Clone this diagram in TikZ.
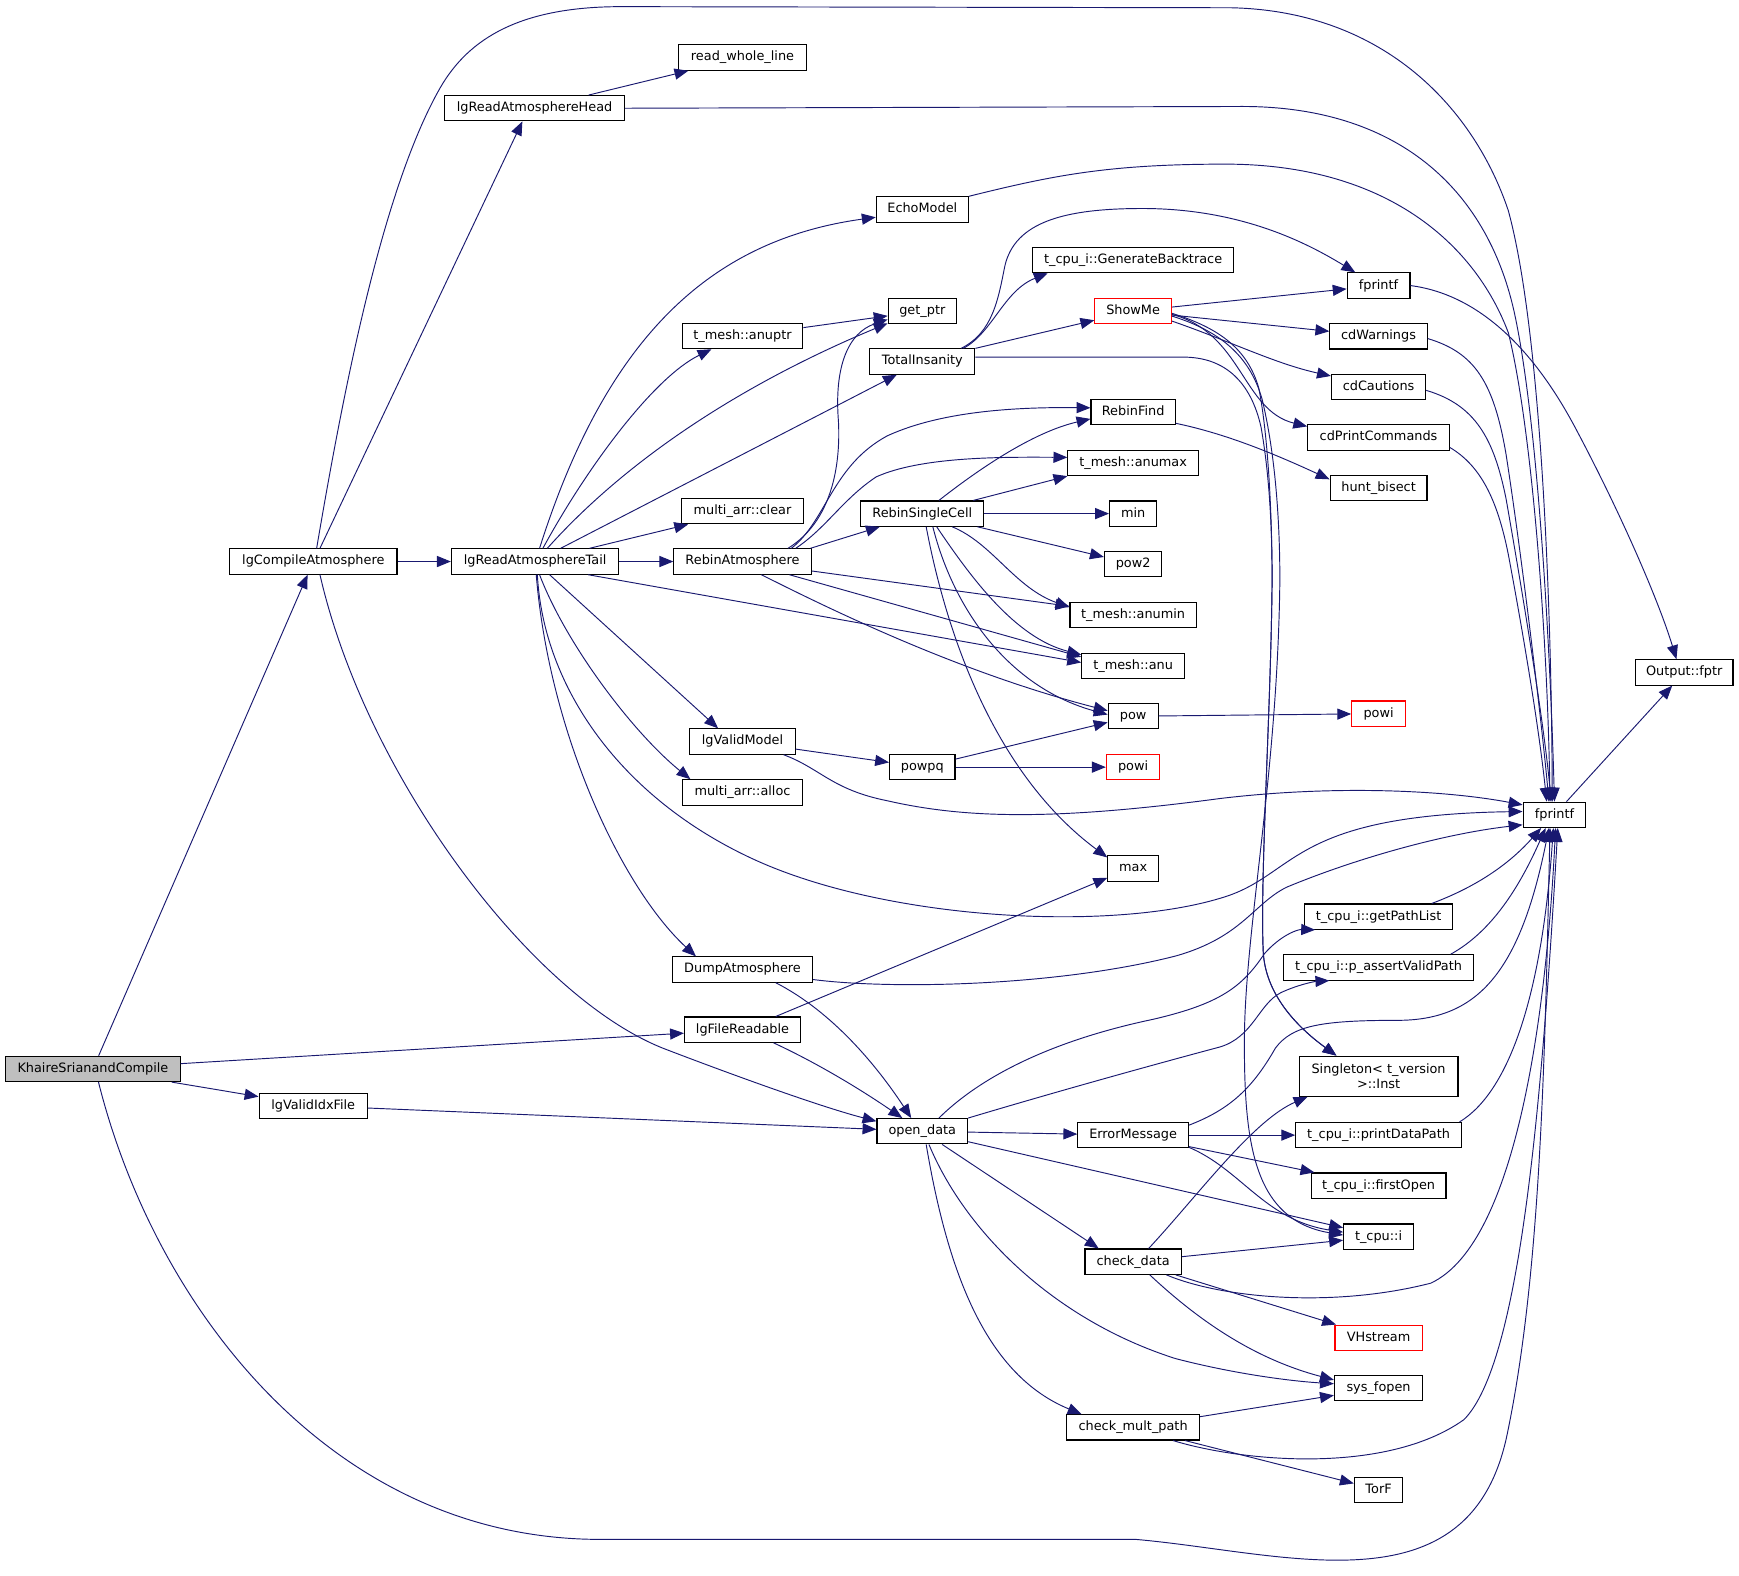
\documentclass[tikz,border=0pt]{standalone}
\usepackage{fontspec}
\setmainfont{DejaVu Sans}
\usetikzlibrary{arrows.meta}
\definecolor{edgec}{HTML}{191970}
\definecolor{nodegray}{HTML}{BFBFBF}
\tikzset{
  fnb/.style={draw=black, line width=1pt, inner sep=0pt, minimum height=22.8pt, font=\fontsize{11.6}{13}\selectfont},
  fn/.style={fnb, text height=8.8pt, text depth=2.6pt},
  redn/.style={draw=red},
  cn/.style={draw=edgec, line width=0.85pt, -{Triangle[length=12.5pt,width=10pt]}},
}
\begin{document}
\begin{tikzpicture}[x=1pt,y=-1pt]
\fill[white] (0,0) rectangle (1568,1420.2);
\useasboundingbox (0,0) rectangle (1568,1420.2);

% ---------- nodes ----------
\node[fn, fill=nodegray, minimum width=157.3pt] (khaire) at (83.8,963.8) {KhaireSrianandCompile};
\node[fn, minimum width=151pt] (lgComp) at (282.5,506.3) {lgCompileAtmosphere};
\node[fn, minimum width=97.6pt] (lgvif) at (282.4,997) {lgValidIdxFile};
\node[fn, minimum width=162pt] (lgHead) at (482,97.6) {lgReadAtmosphereHead};
\node[fn, minimum width=151pt] (lgTail) at (482.5,506.3) {lgReadAtmosphereTail};
\node[fn, minimum width=115.5pt] (rwl) at (669.5,51.9) {read\_whole\_line};
\node[fn, minimum width=108.7pt] (anuptr) at (669.5,303) {t\_mesh::anuptr};
\node[fn, minimum width=109.7pt] (clear) at (669.5,460.9) {multi\_arr::clear};
\node[fn, minimum width=123.8pt] (ra) at (669.5,506.3) {RebinAtmosphere};
\node[fn, minimum width=95pt] (lgvm) at (669.5,668.6) {lgValidModel};
\node[fn, minimum width=108.4pt] (alloc) at (669.5,714.5) {multi\_arr::alloc};
\node[fn, minimum width=126.3pt] (dump) at (669.5,874.2) {DumpAtmosphere};
\node[fn, minimum width=104.6pt] (lgfr) at (669.5,928.4) {lgFileReadable};
\node[fn, minimum width=83pt] (echo) at (831.6,188.9) {EchoModel};
\node[fn, minimum width=61.5pt] (getptr) at (831.6,280.5) {get\_ptr};
\node[fn, minimum width=94.8pt] (totins) at (831.6,326) {TotalInsanity};
\node[fn, minimum width=110.7pt] (rsc) at (831.6,463.1) {RebinSingleCell};
\node[fn, minimum width=59pt] (powpq) at (831.6,691.7) {powpq};
\node[fn, minimum width=81.7pt] (opend) at (831.6,1020) {open\_data};
\node[fn, minimum width=181.6pt] (gbt) at (1021.7,234.5) {t\_cpu\_i::GenerateBacktrace};
\node[fn, redn, minimum width=69pt] (showme) at (1021.7,280.5) {ShowMe};
\node[fn, minimum width=76pt] (rfind) at (1021.7,371.7) {RebinFind};
\node[fn, minimum width=117.6pt] (anumax) at (1021.7,417.4) {t\_mesh::anumax};
\node[fn, minimum width=42.5pt] (nmin) at (1021.7,463.1) {min};
\node[fn, minimum width=51.8pt] (pow2) at (1021.7,508.5) {pow2};
\node[fn, minimum width=113.8pt] (anumin) at (1021.7,554.5) {t\_mesh::anumin};
\node[fn, minimum width=92.8pt] (anu) at (1021.7,600.3) {t\_mesh::anu};
\node[fn, minimum width=45pt] (pow) at (1021.7,645.8) {pow};
\node[fn, redn, minimum width=48.3pt] (powiL) at (1021.7,691.7) {powi};
\node[fn, minimum width=45.6pt] (nmax) at (1021.7,783.1) {max};
\node[fn, minimum width=99.7pt] (errm) at (1021.7,1023.5) {ErrorMessage};
\node[fn, minimum width=86.9pt] (chkd) at (1021.7,1137.6) {check\_data};
\node[fn, minimum width=119.7pt] (chkmp) at (1021.7,1287) {check\_mult\_path};
\node[fn, minimum width=56.6pt] (fprU) at (1243,257.5) {fprintf};
\node[fn, minimum width=87.8pt] (cdw) at (1243,303.3) {cdWarnings};
\node[fn, minimum width=85pt] (cdc) at (1243,349) {cdCautions};
\node[fn, minimum width=127.7pt] (cdpc) at (1243,394.5) {cdPrintCommands};
\node[fn, minimum width=87.4pt] (hunt) at (1243,440.2) {hunt\_bisect};
\node[fn, redn, minimum width=48.4pt] (powiU) at (1243,643.5) {powi};
\node[fn, minimum width=133.5pt] (gpl) at (1243,826.5) {t\_cpu\_i::getPathList};
\node[fn, minimum width=171.8pt] (pavp) at (1243,872.3) {t\_cpu\_i::p\_assertValidPath};
\node[fnb, minimum width=143.2pt, minimum height=36.2pt, align=center] (single) at (1243,970.4) {Singleton< t\_version\\>::Inst};
\node[fn, minimum width=149.4pt] (pdp) at (1243,1023.5) {t\_cpu\_i::printDataPath};
\node[fn, minimum width=121.6pt] (fopen) at (1243,1069) {t\_cpu\_i::firstOpen};
\node[fn, minimum width=63pt] (tcpui) at (1243,1115) {t\_cpu::i};
\node[fn, redn, minimum width=78.6pt] (vh) at (1243,1206.2) {VHstream};
\node[fn, minimum width=79.6pt] (sysf) at (1243,1251.7) {sys\_fopen};
\node[fn, minimum width=43.7pt] (torf) at (1243,1343.2) {TorF};
\node[fn, minimum width=56.6pt] (fprB) at (1401.6,734.7) {fprintf};
\node[fn, minimum width=88pt] (outf) at (1518.6,606.3) {Output::fptr};

% ---------- edges ----------
\draw[cn] (khaire) -- (lgComp);
\draw[cn] (khaire) -- (lgfr);
\draw[cn] (khaire) -- (lgvif);
\draw[cn] ([xshift=5pt]khaire.south) .. controls (140,1180) and (300,1388) .. (541,1388) -- (1024,1388) .. controls (1160,1400) and (1325,1455) .. (1358.8,1294) .. controls (1389.6,1147) and (1393,950) .. ([xshift=-4pt]fprB.south);

\draw[cn] (lgComp) -- (lgTail);
\draw[cn] ([xshift=6pt]lgComp.north) -- ([xshift=-11pt]lgHead.south);
\draw[cn] ([xshift=3pt]lgComp.north) .. controls (310,350) and (345,170) .. (397,79) .. controls (423,34) and (470,6) .. (560,6) -- (1110,7) .. controls (1250,10) and (1330,100) .. (1360,190) .. controls (1390,300) and (1399,550) .. ([xshift=-2pt]fprB.north);
\draw[cn] ([xshift=6pt]lgComp.south) .. controls (330,700) and (480,900) .. (600,946) .. controls (660,969) and (740,998) .. ([yshift=9pt]opend.west);

\draw[cn] (lgHead) -- (rwl);
\draw[cn] (lgHead.east) -- (1120,96) .. controls (1260,96) and (1340,170) .. (1365,280) .. controls (1385,370) and (1397,560) .. (fprB.north);

\draw[cn] ([xshift=4pt]lgTail.north) .. controls (548,300) and (644,216) .. ([yshift=-7pt]echo.west);
\draw[cn] ([xshift=7pt]lgTail.north) .. controls (530,420) and (590,340) .. ([xshift=-28pt]anuptr.south);
\draw[cn] ([xshift=11pt]lgTail.north) .. controls (560,420) and (660,350) .. ([yshift=-11pt]getptr.west);
\draw[cn] (lgTail) -- (totins);
\draw[cn] (lgTail) -- (clear);
\draw[cn] (lgTail) -- (ra);
\draw[cn] (lgTail.-14) -- ([yshift=3pt]anu.west);
\draw[cn] (lgTail) -- ([xshift=-22pt]lgvm.north);
\draw[cn] ([xshift=4pt]lgTail.south) .. controls (510,580) and (570,660) .. ([xshift=-47pt]alloc.north);
\draw[cn] ([xshift=2pt]lgTail.south) .. controls (490,620) and (560,720) .. (680,775) .. controls (800,830) and (1000,840) .. (1100,810) .. controls (1170,790) and (1160,735) .. ([yshift=3pt]fprB.west);
\draw[cn] ([xshift=1pt]lgTail.south) .. controls (495,660) and (560,800) .. ([xshift=-42pt]dump.north);

\draw[cn] (echo.north east) .. controls (950,158) and (1000,148) .. (1105,148) .. controls (1250,148) and (1330,220) .. (1360,300) .. controls (1380,380) and (1395,560) .. ([xshift=-4pt]fprB.north);
\draw[cn] (anuptr) -- (getptr);

\draw[cn] ([xshift=35pt]totins.north) .. controls (895,300) and (900,270) .. (906,240) .. controls (915,200) and (960,188) .. (1030,188) .. controls (1120,188) and (1180,220) .. ([xshift=-21pt]fprU.north);
\draw[cn] ([xshift=37pt]totins.north) .. controls (895,300) and (905,262) .. ([xshift=-77pt]gbt.south);
\draw[cn] (totins.north east) -- (showme);
\draw[cn] ([yshift=4pt]totins.east) -- (1067,322) .. controls (1105,322) and (1128,345) .. (1137,385) .. controls (1145,430) and (1147,480) .. (1147,523) .. controls (1146,640) and (1136,790) .. (1139,858) .. controls (1141,900) and (1175,930) .. ([xshift=-38pt]single.north);
\draw[cn] ([yshift=-2pt]showme.east) .. controls (1100,296) and (1125,315) .. (1135,350) .. controls (1143,390) and (1147,460) .. (1147,523) .. controls (1146,640) and (1136,790) .. (1139,858) .. controls (1141,900) and (1175,930) .. ([xshift=-38pt]single.north);
\draw[cn] ([yshift=-4.5pt]showme.east) .. controls (1105,300) and (1128,325) .. (1138,360) .. controls (1150,410) and (1154,470) .. (1154,523) .. controls (1152,700) and (1122,840) .. (1122,940) .. controls (1122,1030) and (1130,1100) .. ([yshift=1.4pt]tcpui.west);

\draw[cn] ([xshift=41pt]ra.north) .. controls (750,470) and (758,420) .. (756,380) .. controls (752,330) and (765,300) .. ([yshift=-7.5pt]getptr.west);
\draw[cn] ([xshift=44pt]ra.north) .. controls (745,470) and (750,420) .. (800,393) .. controls (850,370) and (920,367) .. ([yshift=4pt]rfind.west);
\draw[cn] ([xshift=48pt]ra.north) .. controls (745,476) and (760,450) .. (790,430) .. controls (830,412) and (900,412) .. ([yshift=5pt]anumax.west);
\draw[cn] (ra.11) -- (rsc);
\draw[cn] (ra) -- (anumin);
\draw[cn] (ra) -- ([yshift=8pt]anu.west);
\draw[cn] ([xshift=17pt]ra.south) .. controls (740,545) and (860,605) .. ([yshift=5pt]pow.west);

\draw[cn] ([xshift=15pt]rsc.north) .. controls (880,425) and (930,390) .. ([yshift=-6pt]rfind.west);
\draw[cn] (rsc) -- (anumax.south west);
\draw[cn] (rsc) -- (nmin);
\draw[cn] (rsc) -- (pow2);
\draw[cn] ([xshift=27pt]rsc.south) .. controls (895,490) and (915,530) .. ([yshift=7pt]anumin.west);
\draw[cn] ([xshift=13pt]rsc.south) .. controls (875,520) and (915,575) .. ([yshift=10pt]anu.west);
\draw[cn] ([xshift=9.5pt]rsc.south) .. controls (860,550) and (910,620) .. ([yshift=1.5pt]pow.west);
\draw[cn] ([xshift=3.5pt]rsc.south) .. controls (855,580) and (900,700) .. ([yshift=10pt]nmax.west);

\draw[cn] ([yshift=-10pt]rfind.east) .. controls (1100,390) and (1140,405) .. ([yshift=8pt]hunt.west);

\draw[cn] (showme) -- (fprU);
\draw[cn] (showme) -- (cdw);
\draw[cn] ([yshift=-9pt]showme.east) .. controls (1110,308) and (1150,328) .. ([yshift=10pt]cdc.west);
\draw[cn] ([yshift=-3pt]showme.east) .. controls (1120,300) and (1120,370) .. ([yshift=10pt]cdpc.west);

\draw[cn] (fprU.east) .. controls (1330,265) and (1380,310) .. (1420,385) .. controls (1460,460) and (1495,540) .. ([xshift=-7pt]outf.north);
\draw[cn] ([yshift=-2pt]cdw.east) .. controls (1330,318) and (1347,345) .. (1358,410) .. controls (1372,500) and (1390,650) .. ([xshift=-5pt]fprB.north);
\draw[cn] ([yshift=-3pt]cdc.east) .. controls (1330,365) and (1347,395) .. (1358,450) .. controls (1372,530) and (1392,650) .. ([xshift=-3pt]fprB.north);
\draw[cn] ([yshift=-9pt]cdpc.east) .. controls (1335,420) and (1350,450) .. (1360,500) .. controls (1375,580) and (1388,660) .. ([xshift=-7pt]fprB.north);

\draw[cn] (pow) -- (powiU);
\draw[cn] (lgvm) -- (powpq);
\draw[cn] ([xshift=37pt]lgvm.south) .. controls (740,693) and (750,712) .. (800,722) .. controls (870,738) and (950,740) .. (1100,720) .. controls (1200,708) and (1300,712) .. ([yshift=9pt]fprB.west);
\draw[cn] (powpq) -- (pow);
\draw[cn] (powpq) -- (powiL);
\draw[cn] (fprB) -- (outf);

\draw[cn] ([yshift=-9pt]dump.east) .. controls (800,892) and (950,890) .. (1060,862) .. controls (1120,845) and (1130,815) .. (1160,800) .. controls (1220,775) and (1300,752) .. ([yshift=-9pt]fprB.west);
\draw[cn] ([xshift=30pt]dump.south) .. controls (750,912) and (790,960) .. ([xshift=-10pt]opend.north);
\draw[cn] ([xshift=30pt]lgfr.north) -- ([yshift=-8.5pt]nmax.west);
\draw[cn] ([xshift=28pt]lgfr.south) .. controls (740,960) and (780,985) .. ([xshift=-18pt]opend.north);
\draw[cn] (lgvif) -- (opend);

\draw[cn] ([xshift=15pt]opend.north) .. controls (880,975) and (940,940) .. (1040,919) .. controls (1100,905) and (1120,890) .. (1140,860) .. controls (1155,843) and (1170,838) .. ([xshift=10pt]gpl.south west);
\draw[cn] (opend.north east) .. controls (950,985) and (1040,960) .. (1100,944) .. controls (1130,935) and (1135,905) .. (1155,895) .. controls (1170,888) and (1185,885) .. ([xshift=42pt]pavp.south west);
\draw[cn] (opend) -- (errm);
\draw[cn] (opend) -- ([yshift=8pt]tcpui.west);
\draw[cn] (opend) -- (chkd.159);
\draw[cn] ([xshift=6pt]opend.south) .. controls (870,1110) and (950,1190) .. (1060,1225) .. controls (1110,1238) and (1160,1245) .. ([yshift=4pt]sysf.west);
\draw[cn] ([xshift=3.5pt]opend.south) .. controls (855,1150) and (890,1240) .. ([xshift=-46.5pt]chkmp.north);

\draw[cn] ([xshift=48pt]gpl.north) .. controls (1330,800) and (1360,780) .. ([xshift=-12pt]fprB.south);
\draw[cn] ([xshift=65pt]pavp.north) .. controls (1345,840) and (1370,800) .. ([xshift=-8pt]fprB.south);

\draw[cn] ([yshift=9pt]errm.east) .. controls (1110,1000) and (1130,980) .. (1150,945) .. controls (1165,925) and (1190,920) .. (1260,920) .. controls (1330,920) and (1370,880) .. ([xshift=-5pt]fprB.south);
\draw[cn] (errm) -- (pdp);
\draw[cn] (errm) -- (fopen);
\draw[cn] ([yshift=-11pt]errm.east) .. controls (1120,1055) and (1140,1100) .. ([yshift=4pt]tcpui.west);
\draw[cn] ([xshift=73pt]pdp.north) .. controls (1360,985) and (1390,900) .. ([xshift=-1pt]fprB.south);

\draw[cn] ([xshift=14pt]chkd.north) .. controls (1080,1078) and (1130,1010) .. ([xshift=8pt]single.south west);
\draw[cn] (chkd) -- (tcpui);
\draw[cn] ([xshift=30pt]chkd.south) .. controls (1100,1170) and (1200,1180) .. (1290,1157) .. controls (1370,1120) and (1395,900) .. ([xshift=1pt]fprB.south);
\draw[cn] (chkd) -- (vh);
\draw[cn] ([xshift=15pt]chkd.south) .. controls (1080,1190) and (1130,1225) .. ([yshift=7.5pt]sysf.west);

\draw[cn] (chkmp) -- (sysf);
\draw[cn] ([xshift=36pt]chkmp.south) .. controls (1120,1318) and (1250,1330) .. (1320,1280) .. controls (1370,1230) and (1390,1000) .. ([xshift=3pt]fprB.south);
\draw[cn] (chkmp) -- (torf);
\end{tikzpicture}
\end{document}
